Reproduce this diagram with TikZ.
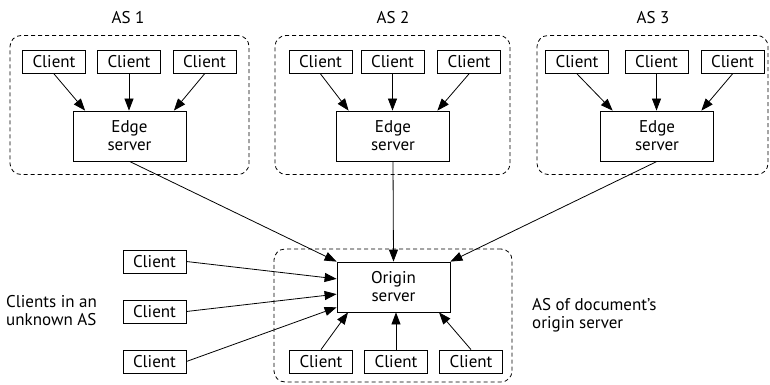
\documentclass[tikz,border=0pt]{standalone}
\usepackage{fontspec}
\setmainfont{PT Sans}
\usetikzlibrary{arrows.meta,calc}

\tikzset{
  box/.style={draw, line width=0.8pt, rectangle, inner sep=0pt, align=center},
  client/.style={box, minimum width=63pt, minimum height=23pt},
  server/.style={box, minimum width=113pt, minimum height=50pt},
  asbox/.style={draw, line width=0.8pt, dash pattern=on 4pt off 3pt, rounded corners=11pt, rectangle, inner sep=0pt},
  lbl/.style={align=left, inner sep=0pt},
  conn/.style={line width=0.8pt, -{Triangle[length=12pt,width=9pt]}},
}

\begin{document}
\begin{tikzpicture}[x=1pt, y=-1pt, font=\fontsize{17pt}{18pt}\selectfont]
\useasboundingbox (0,0) rectangle (770,385);

% Autonomous-system regions
\node[asbox, minimum width=239pt, minimum height=139pt] (as1) at (129.5,105) {};
\node[asbox, minimum width=235pt, minimum height=139pt] (as2) at (392.5,105) {};
\node[asbox, minimum width=231pt, minimum height=139pt] (as3) at (652.5,105) {};
\node[asbox, minimum width=238pt, minimum height=133pt] (aso) at (393,315.5) {};

\node (l1) at (128,18) {AS 1};
\node (l2) at (393,18) {AS 2};
\node (l3) at (653,18) {AS 3};

% AS 1
\node[client] (c11) at (54,62) {Client};
\node[client] (c12) at (129,62) {Client};
\node[client] (c13) at (204.5,62) {Client};
\node[server] (e1) at (129.5,136) {Edge\\server};

% AS 2
\node[client] (c21) at (320.5,62) {Client};
\node[client] (c22) at (392.5,62) {Client};
\node[client] (c23) at (469,62) {Client};
\node[server] (e2) at (393,136) {Edge\\server};

% AS 3
\node[client] (c31) at (577,62) {Client};
\node[client] (c32) at (656.5,62) {Client};
\node[client] (c33) at (732.5,62) {Client};
\node[server] (e3) at (657,136) {Edge\\server};

% Origin AS
\node[server] (o) at (393.5,287) {Origin\\server};
\node[client] (b1) at (321,361.5) {Client};
\node[client] (b2) at (396,361.5) {Client};
\node[client] (b3) at (471,361.5) {Client};

% Clients in an unknown AS
\node[client] (u1) at (154.5,261.5) {Client};
\node[client] (u2) at (154.5,311.5) {Client};
\node[client] (u3) at (154.5,361.5) {Client};

\node[lbl, anchor=west] (ul) at (6,311) {Clients in an\\unknown AS};
\node[lbl, anchor=west] (ol) at (532,315) {AS of document’s\\origin server};

% Clients to edge servers
\foreach \e/\a/\b/\c in {e1/c11/c12/c13, e2/c21/c22/c23, e3/c31/c32/c33} {
  \draw[conn] (\a.south) -- ($(\e.north west)!0.11!(\e.north east)$);
  \draw[conn] (\b.south) -- (\b.south |- \e.north);
  \draw[conn] (\c.south) -- ($(\e.north west)!0.89!(\e.north east)$);
}

% Edge servers to origin server
\draw[conn] (e1.south) -- (o.north west);
\draw[conn] (e2.south) -- (o.north);
\draw[conn] (e3.south) -- (o.north east);

% Unknown clients to origin server
\draw[conn] (u1.east) -- ($(o.north west)!0.34!(o.south west)$);
\draw[conn] (u2.east) -- ($(o.north west)!0.64!(o.south west)$);
\draw[conn] (u3.east) -- ($(o.north west)!0.9!(o.south west)$);

% Local clients to origin server
\draw[conn] (b1.north) -- ($(o.south west)!0.1!(o.south east)$);
\draw[conn] (b2.north) -- (b2.north |- o.south);
\draw[conn] (b3.north) -- ($(o.south west)!0.9!(o.south east)$);
\end{tikzpicture}
\end{document}
